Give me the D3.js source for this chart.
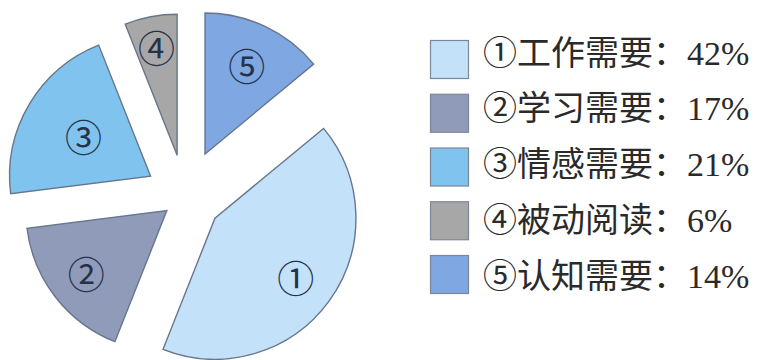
<!DOCTYPE html>
<html>
<head>
<meta charset="utf-8">
<script src="https://cdn.jsdelivr.net/npm/d3@7"></script>
<style>
  html, body { margin: 0; padding: 0; background: #ffffff; }
  svg { display: block; }
</style>
</head>
<body>
<svg id="chart" width="762" height="360"></svg>
<script>
// Reading-motivation survey: share of each reason
const markers = ["①", "②", "③", "④", "⑤"];
const reasons = ["工作需要", "学习需要", "情感需要", "被动阅读", "认知需要"];
const shares = [42, 17, 21, 6, 14];

// Presentation
const fills = ["#c4e1fa", "#8f9bb9", "#80c3ee", "#a7a7a7", "#7fa7e2"];
const strokeColor = "#66768c";
const radius = 141;
const center = [185, 196.5];
// how far each slice is pulled out of the pie, and where its marker sits
const explode = [37, 23, 40, 42, 47];
const markerRadius = [100, 102, 78, 110, 98];

const svg = d3.select("#chart");
const total = d3.sum(shares);

// first slice starts where the last one (⑤, drawn from 12 o'clock) ends
const start = 2 * Math.PI * shares[shares.length - 1] / total;
const pie = d3.pie().sort(null).value(d => d)
  .startAngle(start).endAngle(start + 2 * Math.PI);
const arcs = pie(shares);
const arc = d3.arc().innerRadius(0).outerRadius(radius);

const pieG = svg.append("g").attr("transform", `translate(${center[0]},${center[1]})`);

const slice = pieG.selectAll("g.slice").data(arcs).enter().append("g")
  .attr("class", "slice")
  .attr("transform", (d, i) => {
    const mid = (d.startAngle + d.endAngle) / 2;
    return `translate(${Math.sin(mid) * explode[i]},${-Math.cos(mid) * explode[i]})`;
  });

slice.append("path")
  .attr("d", arc)
  .attr("fill", (d, i) => fills[i])
  .attr("stroke", strokeColor)
  .attr("stroke-width", 1.4)
  .attr("stroke-linejoin", "miter");

slice.append("text")
  .attr("x", (d, i) => Math.sin((d.startAngle + d.endAngle) / 2) * markerRadius[i])
  .attr("y", (d, i) => -Math.cos((d.startAngle + d.endAngle) / 2) * markerRadius[i])
  .attr("text-anchor", "middle")
  .attr("dominant-baseline", "central")
  .attr("font-family", "'Noto Sans CJK SC', sans-serif")
  .attr("font-size", 37)
  .attr("fill", "#25324a")
  .text((d, i) => markers[i]);

// Legend: swatches and their captions
const boxY = d3.scaleLinear().domain([0, reasons.length - 1]).range([40, 255]);
const textY = d3.scaleLinear().domain([0, reasons.length - 1]).range([53, 276]);
const legend = svg.append("g").attr("transform", "translate(430,0)");

legend.selectAll("rect").data(shares).enter().append("rect")
  .attr("x", 0.5)
  .attr("y", (d, i) => boxY(i) + 0.5)
  .attr("width", 38).attr("height", 38)
  .attr("fill", (d, i) => fills[i])
  .attr("stroke", "#7c8796")
  .attr("stroke-width", 1.2);

legend.selectAll("text").data(shares).enter().append("text")
  .attr("x", 53)
  .attr("y", (d, i) => textY(i))
  .attr("dominant-baseline", "central")
  .attr("font-family", "'Liberation Serif', 'Noto Sans CJK SC', serif")
  .attr("font-size", 34)
  .attr("fill", "#2a2a2a")
  .text((d, i) => `${markers[i]}${reasons[i]}：${d}%`);
</script>
</body>
</html>
